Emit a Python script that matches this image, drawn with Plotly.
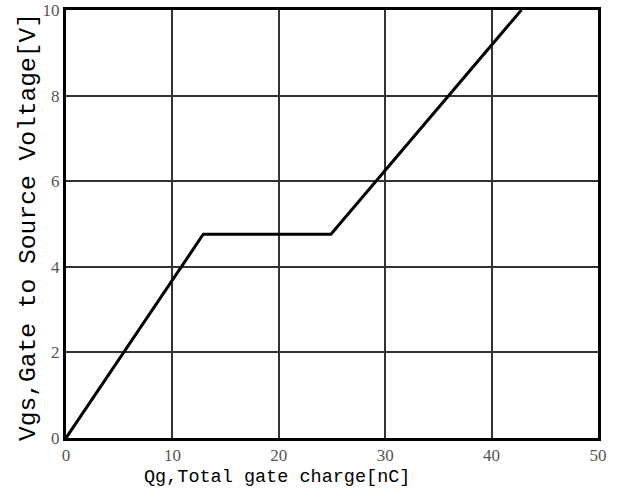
import plotly.graph_objects as go

qg = [0, 12.9, 24.9, 42.8]
vgs = [0, 4.76, 4.76, 10]
x_ticks = [0, 10, 20, 30, 40, 50]
y_ticks = [0, 2, 4, 6, 8, 10]
x_title = "Qg,Total gate charge[nC]"
y_title = "Vgs,Gate to Source Voltage[V]"

fig = go.Figure()
fig.add_trace(go.Scatter(x=qg, y=vgs, mode="lines",
                         line=dict(color="black", width=3), showlegend=False,
                         hoverinfo="skip"))

fig.update_layout(
    width=621, height=497,
    margin=dict(l=66, r=23, t=10, b=59, autoexpand=False),
    paper_bgcolor="white", plot_bgcolor="white",
    xaxis=dict(range=[0, 50], tickvals=x_ticks, showgrid=True, gridcolor="#333",
               gridwidth=1.5, showline=True, mirror=True, linecolor="black",
               linewidth=3, zeroline=False, ticks="", automargin=False,
               tickfont=dict(family="Liberation Serif", size=17, color="#555")),
    yaxis=dict(range=[0, 10], tickvals=y_ticks, showgrid=True, gridcolor="#333",
               gridwidth=1.5, showline=True, mirror=True, linecolor="black",
               linewidth=3, zeroline=False, ticks="", automargin=False,
               tickfont=dict(family="Liberation Serif", size=17, color="#555")),
)
fig.add_annotation(text=x_title, xref="paper", yref="paper",
                   x=(277 - 66) / 532, y=-(477 - 438) / 428,
                   xanchor="center", yanchor="middle", showarrow=False,
                   font=dict(family="Liberation Mono", size=18.5, color="black"))
fig.add_annotation(text=y_title, xref="paper", yref="paper",
                   x=-(66 - 28) / 532, y=(438 - 227) / 428, textangle=-90,
                   xanchor="center", yanchor="middle", showarrow=False,
                   font=dict(family="Liberation Mono", size=24.6, color="black"))
fig.write_html("out.html", config={"displayModeBar": False},
               post_script="document.body.style.margin='0';")
